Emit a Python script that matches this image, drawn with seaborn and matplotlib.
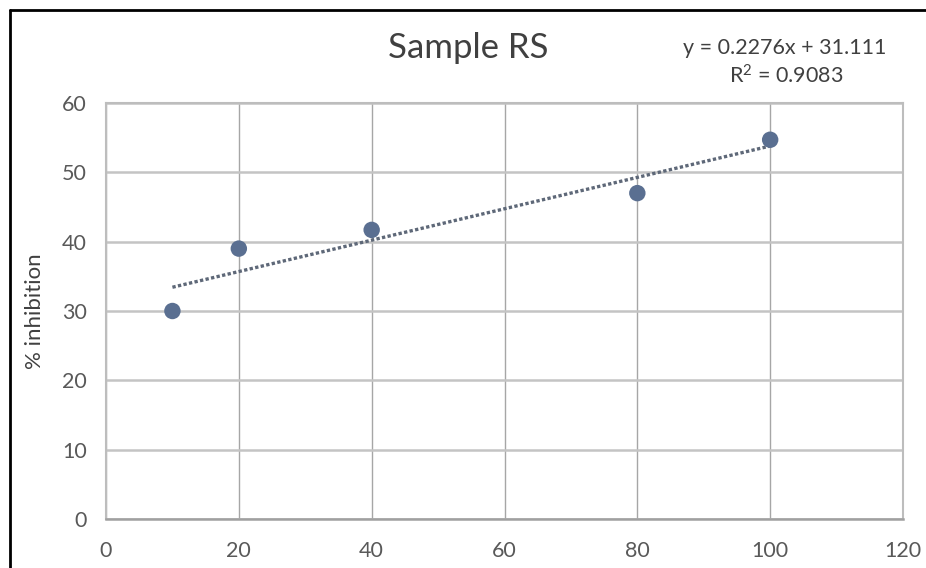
import matplotlib
matplotlib.use("Agg")
import matplotlib.pyplot as plt
from matplotlib.lines import Line2D
import seaborn as sns
import pandas as pd

# Datos
concentracion = [10, 20, 40, 80, 100]
inhibicion = [30.0, 39.0, 41.7, 47.0, 54.7]
x_ticks = [0, 20, 40, 60, 80, 100, 120]
y_ticks = [0, 10, 20, 30, 40, 50, 60]
titulo = "Sample RS"
ecuacion = "y = 0.2276x + 31.111"
r2 = "R$^2$ = 0.9083"

df = pd.DataFrame({"x": concentracion, "y": inhibicion})

sns.set_theme(style="white")
plt.rcParams["font.family"] = ["Lato", "DejaVu Sans"]
plt.rcParams["mathtext.default"] = "regular"

fig = plt.figure(figsize=(9.26, 5.68), dpi=100)
ax = fig.add_axes([106 / 926, 49 / 568, 797 / 926, 416 / 568])

color_punto = "#5a6f91"
sns.regplot(data=df, x="x", y="y", ci=None, ax=ax,
            scatter_kws={"s": 140, "color": color_punto, "alpha": 1, "zorder": 4,
                         "edgecolor": "none"},
            line_kws={"color": "#5e6878", "linewidth": 2.4, "linestyle": (0, (1, 0.7)),
                      "zorder": 3})

ax.set_xlim(0, 120)
ax.set_ylim(0, 60)
ax.set_xticks(x_ticks)
ax.set_yticks(y_ticks)
ax.set_xlabel("")
ax.set_ylabel("% inhibition", fontsize=16, color="#404040", labelpad=12)

ax.xaxis.grid(True, color="#a6a6a6", linewidth=1.0)
ax.yaxis.grid(True, color="#c4c4c4", linewidth=1.8)
ax.set_axisbelow(True)
for lado in ["top", "right", "left"]:
    ax.spines[lado].set_color("#bdbdbd")
    ax.spines[lado].set_linewidth(1.5)
ax.spines["bottom"].set_color("#a0a0a0")
ax.spines["bottom"].set_linewidth(1.8)
ax.tick_params(axis="both", length=0, labelsize=15.5, labelcolor="#595959")
ax.tick_params(axis="x", pad=16)
ax.tick_params(axis="y", pad=14)

fig.text(0.506, 0.915, titulo, ha="center", va="center", fontsize=25, color="#404040")
fig.text(0.847, 0.916, ecuacion, ha="center", va="center", fontsize=15.5, color="#404040")
fig.text(0.849, 0.866, r2, ha="center", va="center", fontsize=15.5, color="#404040")

# Marco negro del recorte original (izquierda y arriba)
fig.add_artist(Line2D([10 / 926, 10 / 926], [0, 1 - 10 / 568], transform=fig.transFigure,
                      color="black", linewidth=2))
fig.add_artist(Line2D([10 / 926, 1], [1 - 10 / 568, 1 - 10 / 568], transform=fig.transFigure,
                      color="black", linewidth=2))

fig.savefig("out.png", dpi=100)
